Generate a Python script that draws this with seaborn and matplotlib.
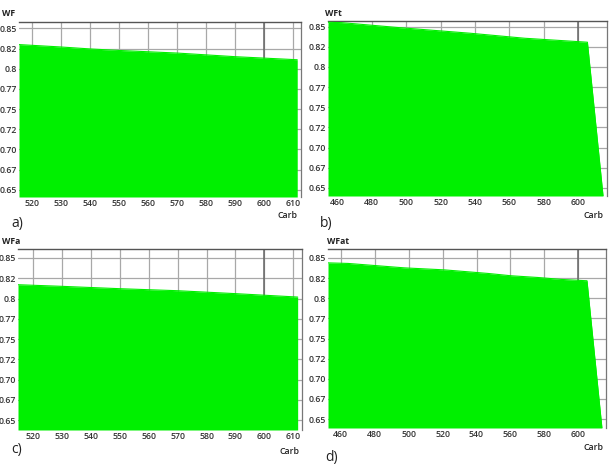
import matplotlib
matplotlib.use("Agg")
import matplotlib.pyplot as plt
import seaborn as sns
import numpy as np

sns.set_style("white")
plt.rcParams['font.family'] = ['Open Sans', 'DejaVu Sans']

# ---- data ----
carb_a = [515.4, 530, 540, 550, 570, 590, 611.5]
wf_a = [0.830, 0.827, 0.8246, 0.8227, 0.8195, 0.815, 0.8112]

carb_b = [454.5, 462.3, 495.8, 537.4, 569.0, 605.4, 614.5]
wft_b = [0.8554, 0.855, 0.8488, 0.8418, 0.8356, 0.8307, 0.640]

carb_c = [514.8, 530, 550, 570, 590, 611.5]
wfa_c = [0.817, 0.815, 0.8121, 0.8096, 0.806, 0.8018]

carb_d = [452.5, 464.3, 497.6, 521.2, 546.7, 560.4, 576.0, 589.8, 605.1, 613.9]
wfat_d = [0.8438, 0.8431, 0.8376, 0.8351, 0.8307, 0.8278, 0.8257, 0.8233, 0.8216, 0.639]

xticks_ac = [520, 530, 540, 550, 560, 570, 580, 590, 600, 610]
xticks_bd = [460, 480, 500, 520, 540, 560, 580, 600]
ytick_vals = [0.65, 0.675, 0.70, 0.725, 0.75, 0.775, 0.80, 0.825, 0.85]
ytick_labels = ["0.65", "0.67", "0.70", "0.72", "0.75", "0.77", "0.8", "0.82", "0.85"]

GREEN = "#00f000"
W, H = 611, 471

fig = plt.figure(figsize=(W / 100, H / 100), dpi=100)


def add_ax(x0, x1, y0, y1):
    return fig.add_axes([x0 / W, 1 - y1 / H, (x1 - x0) / W, (y1 - y0) / H])


def panel(ax, carb, vals, xlim, ylim, xticks):
    ax.set_xlim(*xlim)
    ax.set_ylim(*ylim)
    ax.set_axisbelow(True)
    ax.grid(True, color="#a8a8a8", linewidth=0.9)
    ax.axvline(600, color="#666666", linewidth=1.1, zorder=1)
    ax.fill_between(carb, vals, ylim[0], color=GREEN, linewidth=0, zorder=2)
    sns.lineplot(x=carb, y=vals, ax=ax, color=GREEN, linewidth=0.8, zorder=3)
    ax.set_xticks(xticks)
    ax.set_xticklabels([str(v) for v in xticks])
    ax.set_yticks(ytick_vals)
    ax.set_yticklabels(ytick_labels)
    ax.tick_params(axis="both", length=0, labelsize=6.3, colors="#333333", pad=1.5)
    for lab in ax.get_xticklabels() + ax.get_yticklabels():
        lab.set_fontweight("semibold")
    ax.set_xlabel("")
    ax.set_ylabel("")
    ax.spines["left"].set_visible(False)
    ax.spines["bottom"].set_visible(False)
    ax.spines["top"].set_color("#555555")
    ax.spines["top"].set_linewidth(1.0)
    ax.spines["right"].set_color("#777777")
    ax.spines["right"].set_linewidth(0.9)


ax_a = add_ax(19, 301, 22, 197)
panel(ax_a, carb_a, wf_a, (515.4, 612.8), (0.641, 0.858), xticks_ac)

ax_b = add_ax(328, 607, 21, 196)
panel(ax_b, carb_b, wft_b, (454.5, 616.8), (0.640, 0.857), xticks_bd)

ax_c = add_ax(18, 302, 249, 430)
panel(ax_c, carb_c, wfa_c, (514.8, 613.0), (0.638, 0.861), xticks_ac)

ax_d = add_ax(328, 606, 249, 428)
panel(ax_d, carb_d, wfat_d, (452.5, 616.3), (0.639, 0.861), xticks_bd)


def ftext(x, y, s, size, weight="semibold", ha="left"):
    fig.text(x / W, 1 - y / H, s, fontsize=size, fontweight=weight,
             color="#222222", ha=ha, va="center")


# y-axis titles
ftext(2, 13, "WF", 6.2, "bold")
ftext(325, 13, "WFt", 6.2, "bold")
ftext(2, 242, "WFa", 6.2, "bold")
ftext(327, 242, "WFat", 6.2, "bold")

# x-axis titles
ftext(287, 215, "Carb", 6.3, ha="center")
ftext(594, 216, "Carb", 6.3, ha="center")
ftext(289, 451, "Carb", 6.3, ha="center")
ftext(594, 448, "Carb", 6.3, ha="center")

# panel letters
ftext(11, 223, "a)", 10, "normal")
ftext(320, 223, "b)", 10, "normal")
ftext(11, 450, "c)", 10, "normal")
ftext(325, 457, "d)", 10, "normal")

fig.savefig("out.png", dpi=100)
